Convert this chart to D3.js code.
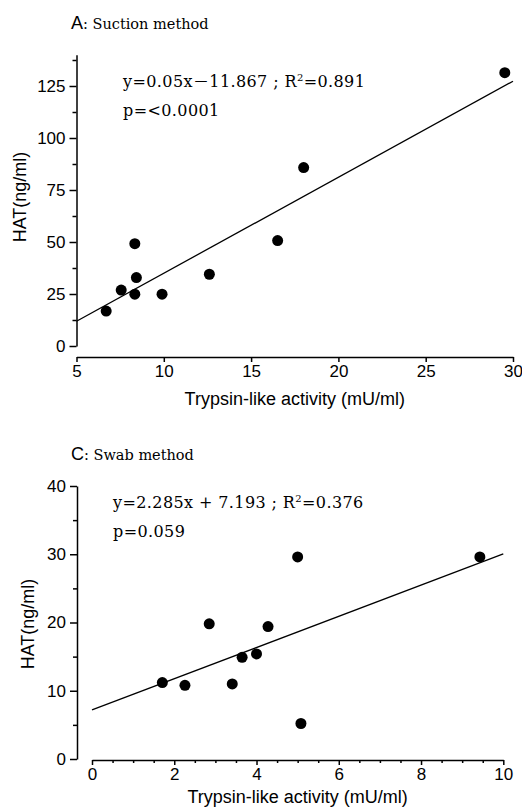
<!DOCTYPE html>
<html>
<head>
<meta charset="utf-8">
<title>HAT vs trypsin-like activity</title>
<style>
  body { margin: 0; background: #fff; }
  .tick text { font-family: "Liberation Sans", Arial, sans-serif; font-size: 17px; }
  .lbl { font-family: "Liberation Sans", Arial, sans-serif; font-size: 18px; }
  .serif { font-family: "DejaVu Serif", "Liberation Serif", serif; }
</style>
</head>
<body>
<script src="https://d3js.org/d3.v7.min.js"></script>
<script>
// panel A: suction method
var aX = [6.7, 7.56, 8.34, 8.43, 8.34, 9.9, 12.61, 16.52, 18.01, 29.53]
var aY = [16.8, 26.9, 49.2, 32.9, 24.9, 24.9, 34.5, 50.7, 85.8, 131.4]
var aFitX = [5, 30]
var aFitY = [11.9, 127.3]
var aTicksX = [5, 10, 15, 20, 25, 30]
var aTicksY = [0, 25, 50, 75, 100, 125]
var aMinorY = [12.5, 37.5, 62.5, 87.5, 112.5, 137.5]

// panel C: swab method
var cX = [1.71, 2.26, 2.85, 3.41, 3.65, 4.0, 4.28, 5.0, 5.08, 9.43]
var cY = [11.2, 10.8, 19.8, 11.0, 14.9, 15.4, 19.4, 29.6, 5.2, 29.6]
var cFitX = [0, 10]
var cFitY = [7.19, 30.04]
var cTicksX = [0, 2, 4, 6, 8, 10]
var cMinorX = [0.5, 1, 1.5, 2.5, 3, 3.5, 4.5, 5, 5.5, 6.5, 7, 7.5, 8.5, 9, 9.5]
var cTicksY = [0, 10, 20, 30, 40]
var cMinorY = [5, 15, 25, 35]

var width = 522, height = 809
var svg = d3.select('body').append('svg')
    .attr('width', width)
    .attr('height', height)

function panel(o) {
    var x = d3.scaleLinear().domain(o.xDom).range(o.xRange)
    var y = d3.scaleLinear().domain(o.yDom).range(o.yRange)
    var g = svg.append('g')

    // title
    var t = g.append('text').attr('x', 71).attr('y', o.titleY)
    t.append('tspan').attr('class', 'lbl').attr('font-size', 18).text(o.letter)
    t.append('tspan').attr('class', 'serif').attr('font-size', 14.5).text(': ' + o.title)

    // x axis
    g.append('g').attr('transform', 'translate(0,' + o.xAxisY + ')')
        .call(d3.axisBottom(x).tickValues(o.ticksX).tickSizeInner(5).tickSizeOuter(0).tickPadding(3).tickFormat(d3.format('d')))
    if (o.minorX) {
        g.append('g').attr('transform', 'translate(0,' + o.xAxisY + ')')
            .call(d3.axisBottom(x).tickValues(o.minorX).tickSize(3).tickFormat(''))
            .select('.domain').remove()
    }
    // y axis
    g.append('g').attr('transform', 'translate(' + o.yAxisX + ',0)')
        .call(d3.axisLeft(y).tickValues(o.ticksY).tickSizeInner(7).tickSizeOuter(0).tickPadding(4).tickFormat(d3.format('d')))
    g.append('g').attr('transform', 'translate(' + o.yAxisX + ',0)')
        .call(d3.axisLeft(y).tickValues(o.minorY).tickSize(4).tickFormat(''))
        .select('.domain').remove()

    g.selectAll('.domain, .tick line').attr('stroke', '#000').attr('stroke-width', 1.5)

    // axis titles
    g.append('text').attr('class', 'lbl')
        .attr('x', (o.xRange[0] + o.xRange[1]) / 2).attr('y', o.xAxisY + o.xLabelDy)
        .attr('text-anchor', 'middle')
        .text('Trypsin-like activity (mU/ml)')
    g.append('text').attr('class', 'lbl')
        .attr('transform', 'translate(' + o.yLabelX + ',' + o.yLabelY + ') rotate(-90)')
        .attr('text-anchor', 'middle')
        .text('HAT(ng/ml)')

    // fit line
    g.append('line')
        .attr('x1', x(o.fitX[0])).attr('y1', y(o.fitY[0]))
        .attr('x2', x(o.fitX[1])).attr('y2', y(o.fitY[1]))
        .attr('stroke', '#000').attr('stroke-width', 1.3)

    // points
    g.selectAll('circle.pt').data(o.xs).enter().append('circle')
        .attr('class', 'pt')
        .attr('cx', function(d){ return x(d) })
        .attr('cy', function(d, i){ return y(o.ys[i]) })
        .attr('r', 5.5)
        .attr('fill', '#000')

    // equation text
    g.append('text').attr('class', 'serif').attr('font-size', 16).attr('letter-spacing', 0.4)
        .attr('x', o.eqX).attr('y', o.eqY)
        .html(o.eq)
    g.append('text').attr('class', 'serif').attr('font-size', 16).attr('letter-spacing', 0.4)
        .attr('x', o.eqX).attr('y', o.eqY + 29)
        .text(o.p)
}

panel({
    letter: 'A', title: 'Suction method', titleY: 29,
    xDom: [5, 30], xRange: [76.5, 513],
    yDom: [0, 140], yRange: [346, 54.8],
    xAxisY: 357, xLabelDy: 48, yAxisX: 76.5, yLabelX: 26, yLabelY: 197,
    ticksX: aTicksX, ticksY: aTicksY, minorY: aMinorY,
    xs: aX, ys: aY, fitX: aFitX, fitY: aFitY,
    eqX: 123, eqY: 87,
    eq: 'y=0.05x<tspan font-family="Noto Sans CJK JP">－</tspan>11.867 ; R<tspan font-size="10" dy="-6">2</tspan><tspan dy="6">=0.891</tspan>',
    p: 'p=<0.0001'
})

panel({
    letter: 'C', title: 'Swab method', titleY: 460,
    xDom: [0, 10], xRange: [92, 503.3],
    yDom: [0, 40], yRange: [759, 486],
    xAxisY: 760, xLabelDy: 43, yAxisX: 77, yLabelX: 34, yLabelY: 624,
    ticksX: cTicksX, minorX: cMinorX, ticksY: cTicksY, minorY: cMinorY,
    xs: cX, ys: cY, fitX: cFitX, fitY: cFitY,
    eqX: 113, eqY: 508,
    eq: 'y=2.285x + 7.193 ; R<tspan font-size="10" dy="-6">2</tspan><tspan dy="6">=0.376</tspan>',
    p: 'p=0.059'
})
</script>
</body>
</html>
